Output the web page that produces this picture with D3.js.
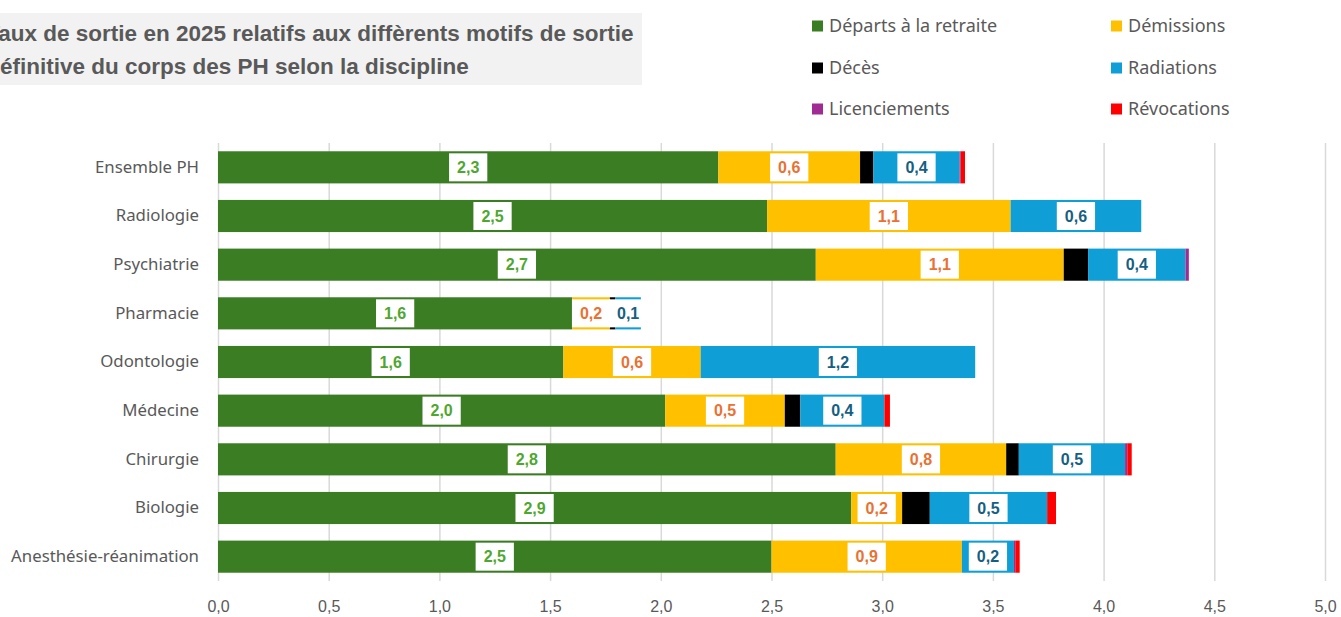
<!DOCTYPE html>
<html>
<head>
<meta charset="utf-8">
<script src="https://cdn.jsdelivr.net/npm/d3@7"></script>
<style>
  html, body { margin: 0; padding: 0; background: #fff; }
  svg { display: block; }
</style>
</head>
<body>
<div id="chart"></div>
<script>
// Disciplines, top to bottom
const disciplines = ["Ensemble PH", "Radiologie", "Psychiatrie", "Pharmacie", "Odontologie",
    "Médecine", "Chirurgie", "Biologie", "Anesthésie-réanimation"];

// Taux de sortie par motif (même ordre que disciplines)
const departsRetraite = [2.26, 2.48, 2.70, 1.60, 1.56, 2.02, 2.79, 2.86, 2.50];
const demissions      = [0.64, 1.10, 1.12, 0.17, 0.62, 0.54, 0.77, 0.23, 0.86];
const deces           = [0.06, 0.00, 0.11, 0.025, 0.00, 0.07, 0.057, 0.125, 0.00];
const radiations      = [0.39, 0.59, 0.44, 0.115, 1.24, 0.38, 0.48, 0.53, 0.235];
const licenciements   = [0.004, 0.00, 0.015, 0.00, 0.00, 0.00, 0.01, 0.00, 0.006];
const revocations     = [0.02, 0.00, 0.00, 0.00, 0.00, 0.025, 0.02, 0.04, 0.02];

const seriesNames  = ["Départs à la retraite", "Démissions", "Décès", "Radiations", "Licenciements", "Révocations"];
const seriesValues = [departsRetraite, demissions, deces, radiations, licenciements, revocations];
const seriesColors = ["#3b7d23", "#ffc000", "#000000", "#0f9ed5", "#a02b93", "#ff0000"];
const labelColors  = ["#4ea72e", "#e97132", null, "#156082", null, null];

const xTicks = [0, 0.5, 1, 1.5, 2, 2.5, 3, 3.5, 4, 4.5, 5];

const titleLines = ["Taux de sortie en 2025 relatifs aux diffèrents motifs de sortie",
    "définitive du corps des PH selon la discipline"];

const W = 1341, H = 617;
const plot = { left: 218, right: 1325, top: 143, bottom: 581 };
const textGrey = "#595959";
const fmt = v => d3.format(".1f")(v).replace(".", ",");

const svg = d3.select("#chart").append("svg")
    .attr("width", W).attr("height", H)
    .style("font-family", "'Liberation Sans', Arial, sans-serif");

// table for the stack
const rows = disciplines.map((d, i) => {
    const r = { discipline: d };
    seriesNames.forEach((s, j) => { r[s] = seriesValues[j][i]; });
    return r;
});
const stacked = d3.stack().keys(seriesNames)(rows);

const x = d3.scaleLinear().domain([0, 5]).range([plot.left, plot.right]);
const y = d3.scaleBand().domain(disciplines).range([plot.top, plot.bottom])
    .paddingInner(0.34).paddingOuter(0.17);

// grid + x labels
const xAxis = svg.append("g")
    .attr("transform", `translate(0,${plot.bottom})`)
    .call(d3.axisBottom(x).tickValues(xTicks).tickFormat(fmt)
        .tickSize(-(plot.bottom - plot.top)).tickPadding(20));
xAxis.select(".domain").remove();
xAxis.selectAll(".tick line").attr("stroke", "#d9d9d9").attr("stroke-width", 1.5);
xAxis.selectAll(".tick text").attr("fill", textGrey).style("font-size", "16px");

// category labels
const yAxis = svg.append("g")
    .attr("transform", `translate(${plot.left},0)`)
    .call(d3.axisLeft(y).tickSize(0).tickPadding(19));
yAxis.select(".domain").remove();
yAxis.selectAll(".tick text").attr("fill", textGrey)
    .style("font-family", "'Noto Sans', 'Open Sans', sans-serif").style("font-size", "16.8px");

// bars
const layers = svg.append("g").selectAll("g").data(stacked).join("g")
    .attr("fill", (d, i) => seriesColors[i]);
layers.selectAll("rect").data(d => d).join("rect")
    .attr("x", d => x(d[0]))
    .attr("y", d => y(d.data.discipline))
    .attr("width", d => Math.max(0, x(d[1]) - x(d[0])))
    .attr("height", y.bandwidth());

// data labels (white boxes)
const labelG = svg.append("g").style("font-size", "16px").style("font-weight", "bold");
stacked.forEach((layer, i) => {
    if (!labelColors[i]) return;
    layer.forEach(d => {
        const v = d[1] - d[0];
        if (v <= 0) return;
        const cx = (x(d[0]) + x(d[1])) / 2;
        const cy = y(d.data.discipline) + y.bandwidth() / 2;
        const g = labelG.append("g");
        const rect = g.append("rect").attr("fill", "#fff");
        const t = g.append("text").attr("x", cx).attr("y", cy).attr("dy", "0.36em")
            .attr("text-anchor", "middle").attr("fill", labelColors[i]).text(fmt(v));
        const bw = t.node().getComputedTextLength() + 16;
        rect.attr("x", cx - bw / 2).attr("y", cy - 14).attr("width", bw).attr("height", 28);
    });
});

// title box (text runs off the left edge, as in the source picture)
svg.append("rect").attr("x", 0).attr("y", 13).attr("width", 642).attr("height", 72).attr("fill", "#f2f2f2");
const title = svg.append("g").attr("fill", textGrey)
    .style("font-family", "'Liberation Sans', Arial, sans-serif")
    .style("font-weight", "bold").style("font-size", "22.5px");
const probe = title.append("text").text("T");
const tW = probe.node().getComputedTextLength();
probe.remove();
titleLines.forEach((line, i) => {
    title.append("text").attr("x", -tW).attr("y", 41 + i * 33).text(line);
});

// legend
const legend = svg.append("g").style("font-family", "'Noto Sans', 'Open Sans', sans-serif").style("font-size", "18px");
const legendPos = [[812, 26], [1111, 26], [812, 68], [1111, 68], [812, 109], [1111, 109]];
seriesNames.forEach((s, i) => {
    const [lx, ly] = legendPos[i];
    legend.append("rect").attr("x", lx).attr("y", ly - 5.5).attr("width", 11).attr("height", 11)
        .attr("fill", seriesColors[i]);
    legend.append("text").attr("x", lx + 17).attr("y", ly).attr("dy", "0.35em")
        .attr("fill", textGrey).text(s);
});
</script>
</body>
</html>
